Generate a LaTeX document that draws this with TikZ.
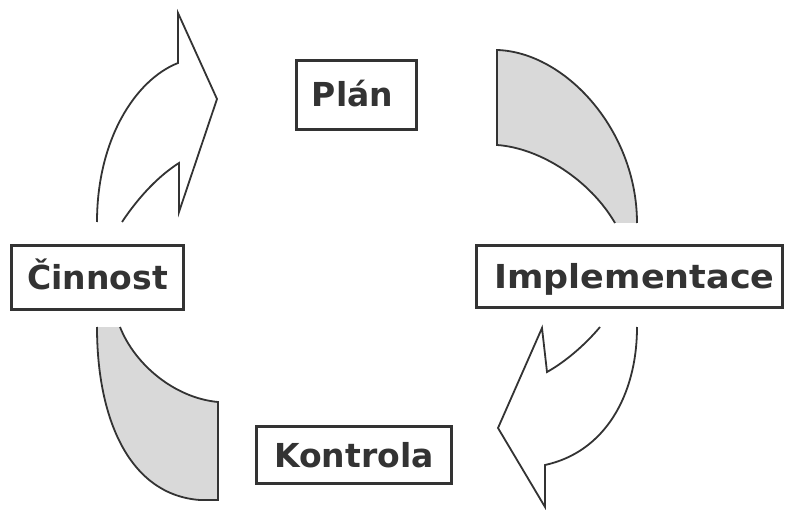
\documentclass[tikz,border=0pt]{standalone}
\usepackage{graphicx}
\usepackage{fontspec}
\setmainfont{DejaVu Sans}
\begin{document}
\begin{tikzpicture}[x=1pt,y=-1pt,
  label box/.style={draw=boxgray, line width=3pt, fill=white, inner sep=0pt,
    font=\fontsize{33}{36}\selectfont\bfseries, text=txtgray,
    text height=24pt, text depth=0pt, anchor=center},
  band fill/.style={fill=bandgray, draw=none},
  arrow fill/.style={fill=white, draw=none},
  edge line/.style={draw=linegray, line width=1.8pt, line join=miter}]
\definecolor{boxgray}{HTML}{333333}
\definecolor{txtgray}{HTML}{333333}
\definecolor{linegray}{HTML}{333333}
\definecolor{bandgray}{HTML}{D9D9D9}
\useasboundingbox (0,0) rectangle (786,510);

% outlines of the four curved pieces (open where the labels cut them)
\newcommand\tlpiece{(122,222) .. controls (140,195) and (160,175) .. (179,163)
  -- (179,212) -- (217,99) -- (178,13) -- (178,63)
  .. controls (135,80) and (97,140) .. (97,222)}
\newcommand\trpiece{(615,223) .. controls (590,180) and (540,148) .. (497,145)
  -- (497,50) .. controls (565,52) and (637,130) .. (637,223)}
\newcommand\brpiece{(600,327) .. controls (585,345) and (565,362) .. (547,372)
  -- (542,328) -- (498,428) -- (545,507) -- (545,465)
  .. controls (605,452) and (637,395) .. (637,327)}
\newcommand\blpiece{(120,327) .. controls (135,365) and (175,398) .. (218,402)
  -- (218,500) -- (200,500) .. controls (130,495) and (97,420) .. (97,327)}

% top-left arrow (white)
\path[arrow fill] \tlpiece -- cycle;
\path[edge line] \tlpiece;
% top-right band (grey)
\path[band fill] \trpiece -- cycle;
\path[edge line] \trpiece;
% bottom-right arrow (white)
\path[arrow fill] \brpiece -- cycle;
\path[edge line] \brpiece;
% bottom-left band (grey)
\path[band fill] \blpiece -- cycle;
\path[edge line] \blpiece;

% labels
\node[label box, minimum width=120pt, minimum height=69pt] (plan) at (356.5,95) {Plán\hspace*{8pt}};
\node[label box, minimum width=306pt, minimum height=62pt] (impl) at (629.5,276.5) {\hspace*{10pt}\scalebox{1.06}[1]{Implementace}};
\node[label box, minimum width=195pt, minimum height=57pt] (kontrola) at (354,455) {Kontrola};
\node[label box, minimum width=172pt, minimum height=64pt] (cinnost) at (97.5,277.5) {Činnost};
\end{tikzpicture}
\end{document}
